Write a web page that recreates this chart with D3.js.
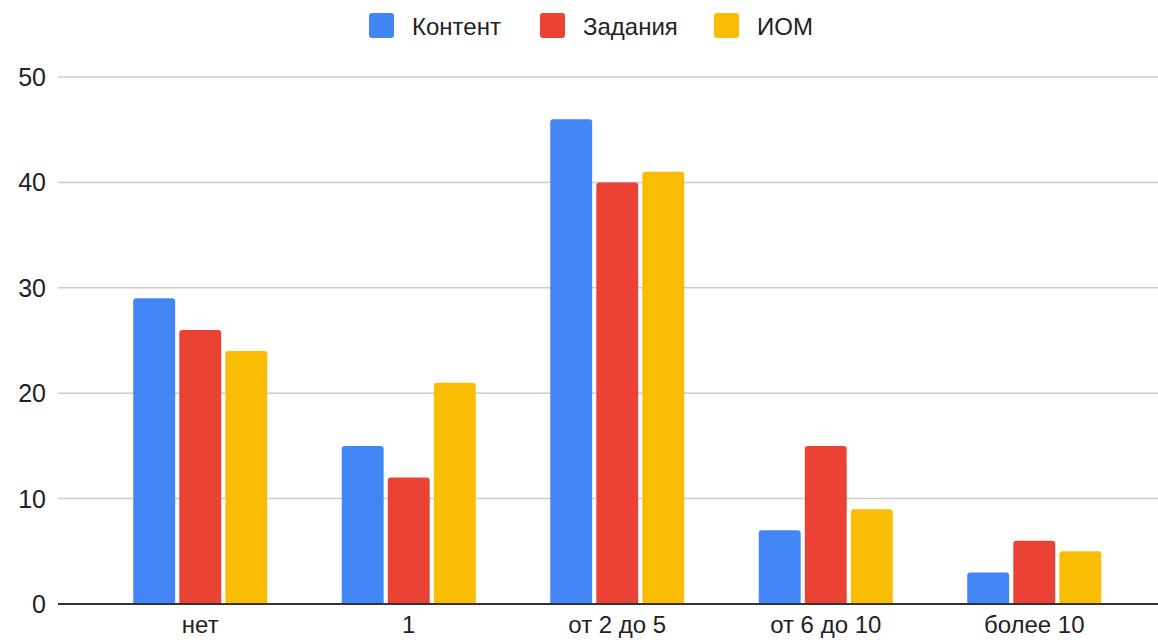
<!DOCTYPE html>
<html>
<head>
<meta charset="utf-8">
<script src="https://cdn.jsdelivr.net/npm/d3@7"></script>
<style>
  body { margin: 0; background: #fff; }
  text { font-family: "Liberation Sans", Arial, sans-serif; }
</style>
</head>
<body>
<script>
// data
const categories = ["нет", "1", "от 2 до 5", "от 6 до 10", "более 10"];
const seriesNames = ["Контент", "Задания", "ИОМ"];
const kontent = [29, 15, 46, 7, 3];
const zadaniya = [26, 12, 40, 15, 6];
const iom = [24, 21, 41, 9, 5];
const yTicks = [0, 10, 20, 30, 40, 50];
const colors = ["#4285F4", "#EA4335", "#FBBC04"];

const series = [kontent, zadaniya, iom];

const width = 1158, height = 640;
const svg = d3.select("body").append("svg")
    .attr("width", width)
    .attr("height", height);

const x0 = d3.scaleBand()
    .domain(categories)
    .range([96, 1138.5])
    .padding(0);

const groupW = 134;
const x1 = d3.scaleBand()
    .domain(seriesNames)
    .range([0, groupW])
    .paddingInner(0.09);

const y = d3.scaleLinear()
    .domain([0, 50])
    .range([604, 77]);

// gridlines
svg.append("g")
  .selectAll("line")
  .data(yTicks.filter(d => d > 0))
  .join("line")
    .attr("x1", 58)
    .attr("x2", width)
    .attr("y1", d => y(d))
    .attr("y2", d => y(d))
    .attr("stroke", "#cccccc")
    .attr("stroke-width", 1.5);

// y tick labels
svg.append("g")
  .selectAll("text")
  .data(yTicks)
  .join("text")
    .attr("x", 46)
    .attr("y", d => y(d))
    .attr("dy", "0.36em")
    .attr("text-anchor", "end")
    .attr("font-size", 25)
    .attr("fill", "#222")
    .text(d => d);

// rounded-top bar path
function barPath(x, yTop, w, h, r) {
  r = Math.min(r, h, w / 2);
  return `M${x},${yTop + h}V${yTop + r}Q${x},${yTop} ${x + r},${yTop}` +
         `H${x + w - r}Q${x + w},${yTop} ${x + w},${yTop + r}V${yTop + h}Z`;
}

const groups = svg.append("g")
  .selectAll("g")
  .data(categories)
  .join("g")
    .attr("transform", d => `translate(${x0(d) + (x0.bandwidth() - groupW) / 2},0)`);

groups.selectAll("path")
  .data((c, i) => seriesNames.map((s, j) => ({ s, j, v: series[j][i] })))
  .join("path")
    .attr("d", d => barPath(x1(d.s), y(d.v), x1.bandwidth(), y(0) - y(d.v), 3))
    .attr("fill", d => colors[d.j]);

// baseline
svg.append("line")
    .attr("x1", 58)
    .attr("x2", width)
    .attr("y1", y(0))
    .attr("y2", y(0))
    .attr("stroke", "#333")
    .attr("stroke-width", 2);

// category labels
svg.append("g")
  .selectAll("text")
  .data(categories)
  .join("text")
    .attr("x", d => x0(d) + x0.bandwidth() / 2)
    .attr("y", 633)
    .attr("text-anchor", "middle")
    .attr("font-size", 24)
    .attr("fill", "#222")
    .text(d => d);

// legend
const legendX = [369, 540, 714];
const legend = svg.append("g")
  .selectAll("g")
  .data(seriesNames)
  .join("g")
    .attr("transform", (d, i) => `translate(${legendX[i]},13)`);

legend.append("rect")
    .attr("width", 25)
    .attr("height", 25)
    .attr("rx", 3)
    .attr("fill", (d, i) => colors[i]);

legend.append("text")
    .attr("x", 43)
    .attr("y", 13)
    .attr("dy", "0.36em")
    .attr("font-size", 24)
    .attr("fill", "#222")
    .text(d => d);
</script>
</body>
</html>
